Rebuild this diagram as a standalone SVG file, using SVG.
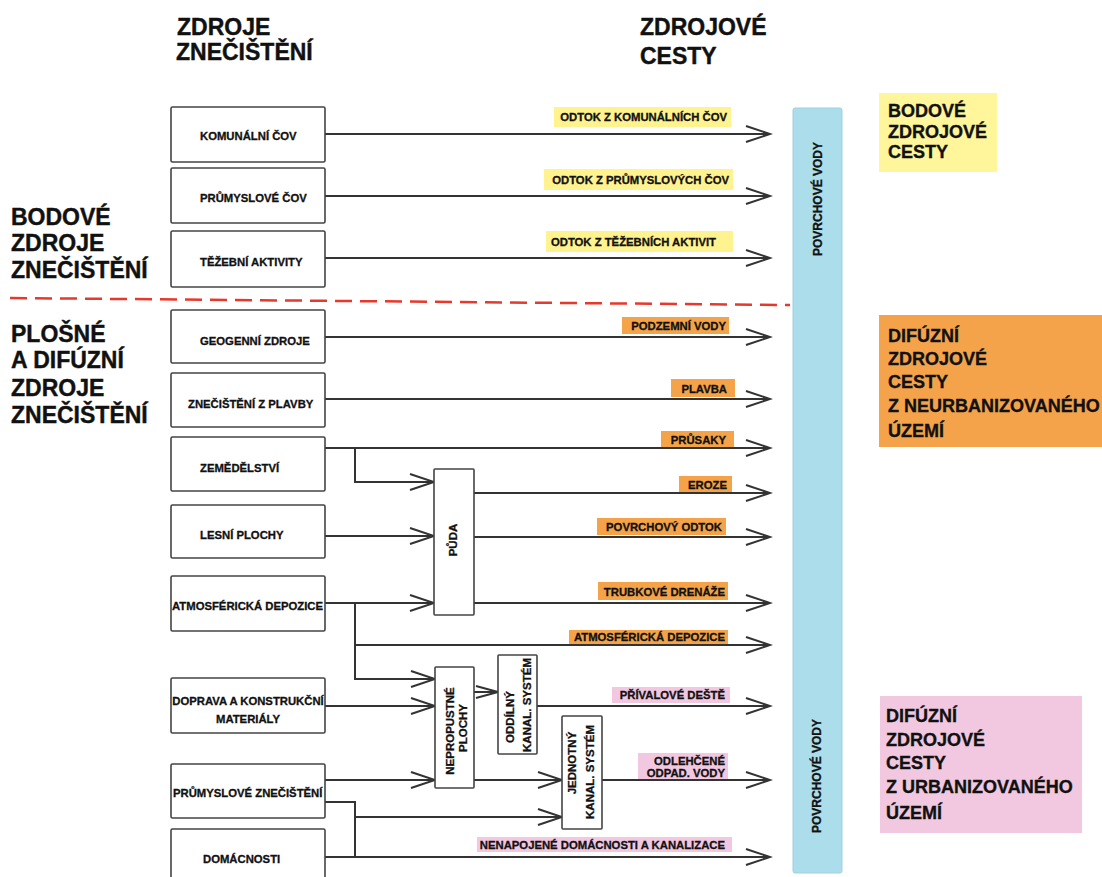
<svg xmlns="http://www.w3.org/2000/svg" width="1102" height="877" viewBox="0 0 1102 877">
<style>
text{font-family:"Liberation Sans",Arial,sans-serif;font-weight:bold;fill:#111}
.hdr{font-size:23px;stroke:#111;stroke-width:0.4}
.leg{font-size:18px;stroke:#111;stroke-width:0.35}
.sm{font-size:11.3px;stroke:#111;stroke-width:0.3}
.rot{font-size:11.5px;text-anchor:middle;stroke:#111;stroke-width:0.3}
.box{fill:#fff;stroke:#444;stroke-width:1.6}
.ln{fill:none;stroke:#333;stroke-width:2}
.arr{marker-end:url(#ah)}
.yl{fill:#FFF38F}
.or{fill:#F5A349}
.pk{fill:#F2C8E0}
.lt{font-size:11.3px;text-anchor:end;stroke:#111;stroke-width:0.3}
</style>
<defs>
<marker id="ah" markerUnits="userSpaceOnUse" markerWidth="28" markerHeight="20" refX="25" refY="9" orient="auto">
<path d="M1,1 L25,9 L1,17" fill="none" stroke="#333" stroke-width="2"/>
</marker>
<marker id="ahs" markerUnits="userSpaceOnUse" markerWidth="26" markerHeight="16" refX="23" refY="7" orient="auto">
<path d="M1,1 L23,7 L1,13" fill="none" stroke="#333" stroke-width="2"/>
</marker>
</defs>

<g id="headers">
<text class="hdr" x="177" y="35">ZDROJE</text>
<text class="hdr" x="176" y="60">ZNEČIŠTĚNÍ</text>
<text class="hdr" x="640" y="35">ZDROJOVÉ</text>
<text class="hdr" x="640" y="64">CESTY</text>
<text class="hdr" x="11" y="225">BODOVÉ</text>
<text class="hdr" x="11" y="251">ZDROJE</text>
<text class="hdr" x="11" y="278">ZNEČIŠTĚNÍ</text>
<text class="hdr" x="11" y="342">PLOŠNÉ</text>
<text class="hdr" x="11" y="368">A DIFÚZNÍ</text>
<text class="hdr" x="11" y="396">ZDROJE</text>
<text class="hdr" x="11" y="423">ZNEČIŠTĚNÍ</text>
</g>

<line x1="10" y1="298" x2="790" y2="305" stroke="#E8372B" stroke-width="2.5" stroke-dasharray="17 8"/>

<g id="povrchove-vody">
<rect x="793" y="108" width="49" height="765" rx="2" fill="#ABDDEB" stroke="#9FD0E0" stroke-width="1"/>
<text class="rot" style="font-size:12px" transform="translate(822,199) rotate(-90)">POVRCHOVÉ VODY</text>
<text class="rot" style="font-size:12px" transform="translate(821,776) rotate(-90)">POVRCHOVÉ VODY</text>
</g>

<g id="legend-bodove">
<rect x="879" y="93" width="118" height="79" fill="#FFF59B"/>
<text class="leg" x="888" y="117">BODOVÉ</text>
<text class="leg" x="888" y="137.5">ZDROJOVÉ</text>
<text class="leg" x="888" y="158">CESTY</text>
</g>
<g id="legend-neurban">
<rect x="879" y="315" width="223" height="132" fill="#F5A34B"/>
<text class="leg" x="888" y="342">DIFÚZNÍ</text>
<text class="leg" x="888" y="365">ZDROJOVÉ</text>
<text class="leg" x="888" y="388">CESTY</text>
<text class="leg" x="888" y="412">Z NEURBANIZOVANÉHO</text>
<text class="leg" x="888" y="437">ÚZEMÍ</text>
</g>
<g id="legend-urban">
<rect x="880" y="696" width="202" height="137" fill="#F2C8E0"/>
<text class="leg" x="886" y="722">DIFÚZNÍ</text>
<text class="leg" x="886" y="746">ZDROJOVÉ</text>
<text class="leg" x="886" y="769">CESTY</text>
<text class="leg" x="886" y="793">Z URBANIZOVANÉHO</text>
<text class="leg" x="886" y="819">ÚZEMÍ</text>
</g>

<g id="connectors">
<path class="ln arr" d="M325,134 H770"/>
<path class="ln arr" d="M325,196 H770"/>
<path class="ln arr" d="M325,258 H770"/>
<path class="ln arr" d="M325,337 H770"/>
<path class="ln arr" d="M325,399 H770"/>
<path class="ln arr" d="M325,448 H770"/>
<path class="ln arr" d="M355,448 V482 H434"/>
<path class="ln arr" d="M325,536 H434"/>
<path class="ln arr" d="M325,603 H434"/>
<path class="ln arr" d="M355,603 V679 H435"/>
<path class="ln arr" d="M355,645 H770"/>
<path class="ln arr" d="M474,493 H770"/>
<path class="ln arr" d="M474,537 H770"/>
<path class="ln arr" d="M474,603 H770"/>
<path class="ln arr" d="M325,706 H435"/>
<path class="ln arr" d="M325,780 H435"/>
<path class="ln" style="marker-end:url(#ahs)" d="M474,692 H498"/>
<path class="ln arr" d="M474,780 H562"/>
<path class="ln arr" d="M537,706 H770"/>
<path class="ln arr" d="M602,780 H770"/>
<path class="ln" d="M325,802 H355 V857"/>
<path class="ln arr" d="M355,817 H562"/>
<path class="ln arr" d="M325,857 H770"/>
</g>

<g id="labels">
<rect class="yl" x="554" y="107" width="177" height="20"/>
<text class="lt" x="727" y="121">ODTOK Z KOMUNÁLNÍCH ČOV</text>
<rect class="yl" x="544" y="169" width="189" height="21"/>
<text class="lt" x="729" y="184">ODTOK Z PRŮMYSLOVÝCH ČOV</text>
<rect class="yl" x="546" y="231" width="187" height="21"/>
<text class="lt" x="716" y="246">ODTOK Z TĚŽEBNÍCH AKTIVIT</text>
<rect class="or" x="622" y="317" width="107" height="17"/>
<text class="lt" x="726" y="330">PODZEMNÍ VODY</text>
<rect class="or" x="671" y="379" width="64" height="18"/>
<text class="lt" x="727" y="393">PLAVBA</text>
<rect class="or" x="661" y="431" width="73" height="16"/>
<text class="lt" x="726" y="444">PRŮSAKY</text>
<rect class="or" x="679" y="476" width="53" height="16"/>
<text class="lt" x="727" y="489">EROZE</text>
<rect class="or" x="597" y="518" width="129" height="17"/>
<text class="lt" x="722" y="531">POVRCHOVÝ ODTOK</text>
<rect class="or" x="598" y="582" width="130" height="18"/>
<text class="lt" x="725" y="596">TRUBKOVÉ DRENÁŽE</text>
<rect class="or" x="569" y="630" width="159" height="14"/>
<text class="lt" x="725" y="641">ATMOSFÉRICKÁ DEPOZICE</text>
<rect class="pk" x="612" y="687" width="118" height="16"/>
<text class="lt" x="725" y="699">PŘÍVALOVÉ DEŠTĚ</text>
<rect class="pk" x="638" y="753" width="90" height="26"/>
<text class="lt" x="725" y="765">ODLEHČENÉ</text>
<text class="lt" x="725" y="777">ODPAD. VODY</text>
<rect class="pk" x="477" y="837" width="255" height="15"/>
<text class="lt" x="725" y="849">NENAPOJENÉ DOMÁCNOSTI A KANALIZACE</text>
</g>

<g id="komunalni-cov"><rect class="box" x="171" y="107" width="154" height="55" rx="1.5"/><text class="sm" x="200" y="140">KOMUNÁLNÍ ČOV</text></g>
<g id="prumyslove-cov"><rect class="box" x="171" y="168" width="154" height="55" rx="1.5"/><text class="sm" x="200" y="202">PRŮMYSLOVÉ ČOV</text></g>
<g id="tezebni-aktivity"><rect class="box" x="171" y="231" width="154" height="56" rx="1.5"/><text class="sm" x="200" y="266">TĚŽEBNÍ AKTIVITY</text></g>
<g id="geogenni-zdroje"><rect class="box" x="171" y="310" width="154" height="53" rx="1.5"/><text class="sm" x="200" y="345">GEOGENNÍ ZDROJE</text></g>
<g id="znecisteni-z-plavby"><rect class="box" x="171" y="373" width="154" height="54" rx="1.5"/><text class="sm" x="188" y="408">ZNEČIŠTĚNÍ Z PLAVBY</text></g>
<g id="zemedelstvi"><rect class="box" x="171" y="437" width="154" height="54" rx="1.5"/><text class="sm" x="200" y="472">ZEMĚDĚLSTVÍ</text></g>
<g id="lesni-plochy"><rect class="box" x="171" y="505" width="154" height="53" rx="1.5"/><text class="sm" x="200" y="539">LESNÍ PLOCHY</text></g>
<g id="atmosfericka-depozice"><rect class="box" x="171" y="576" width="154" height="55" rx="1.5"/><text class="sm" x="172" y="610">ATMOSFÉRICKÁ DEPOZICE</text></g>
<g id="doprava"><rect class="box" x="171" y="678" width="154" height="55" rx="1.5"/><text class="sm" x="248" y="705" text-anchor="middle">DOPRAVA A KONSTRUKČNÍ</text><text class="sm" x="248" y="723" text-anchor="middle">MATERIÁLY</text></g>
<g id="prumyslove-znecisteni"><rect class="box" x="171" y="764" width="154" height="54" rx="1.5"/><text class="sm" x="173" y="797">PRŮMYSLOVÉ ZNEČIŠTĚNÍ</text></g>
<g id="domacnosti"><rect class="box" x="171" y="829" width="154" height="60" rx="1.5"/><text class="sm" x="203" y="863">DOMÁCNOSTI</text></g>

<g id="puda"><rect class="box" x="434" y="469" width="40" height="146" rx="1"/><text class="rot" transform="translate(457,540) rotate(-90)">PŮDA</text></g>
<g id="nepropustne-plochy"><rect class="box" x="435" y="667" width="39" height="121" rx="1"/><text class="rot" transform="translate(454,731) rotate(-90)">NEPROPUSTNÉ</text><text class="rot" transform="translate(467,728) rotate(-90)">PLOCHY</text></g>
<g id="oddilny-system"><rect class="box" x="498" y="655" width="39" height="99" rx="1"/><text class="rot" transform="translate(514,717) rotate(-90)">ODDÍLNÝ</text><text class="rot" transform="translate(531,705) rotate(-90)">KANAL. SYSTÉM</text></g>
<g id="jednotny-system"><rect class="box" x="562" y="716" width="40" height="113" rx="1"/><text class="rot" transform="translate(576,763) rotate(-90)">JEDNOTNÝ</text><text class="rot" transform="translate(594,772) rotate(-90)">KANAL. SYSTÉM</text></g>
</svg>
